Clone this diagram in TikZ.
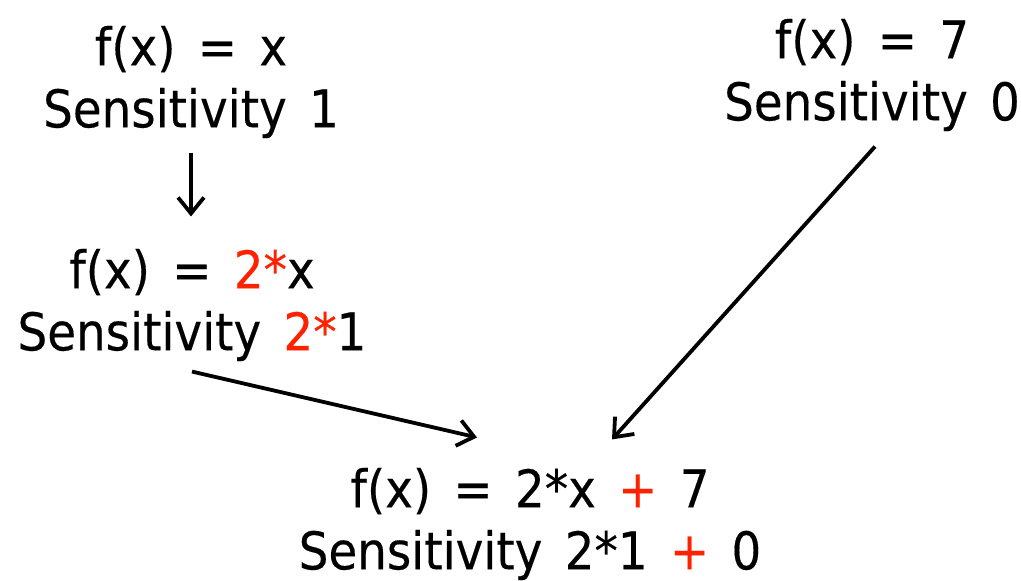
\documentclass[tikz,border=0pt]{standalone}
\usepackage{fontspec}
\setmainfont[FakeStretch=0.9,WordSpace=1.5,FakeBold=0.3]{DejaVu Sans}
\usetikzlibrary{arrows.meta,calc}
\definecolor{sensred}{HTML}{FF2200}

\begin{document}
\begin{tikzpicture}[x=0.5pt,y=0.5pt,
          fn/.style={align=center, inner sep=0pt,
                     font=\fontsize{26}{31}\selectfont},
          arr/.style={-{Straight Barb[length=8pt,width=13pt]}, line width=1.9pt}
        ]
        \useasboundingbox (0,0) rectangle (1021,580);
        \node[fn] (id) at (191,498) {f(x) = x\\Sensitivity 1};
        \node[fn] (cst) at (872,505) {f(x) = 7\\Sensitivity 0};
        \node[fn] (dbl) at (192,275) {f(x) = \textcolor{sensred}{2*}x\\Sensitivity \textcolor{sensred}{2*}1};
        \node[fn] (sum) at (530,56) {f(x) = 2*x \textcolor{sensred}{+} 7\\Sensitivity 2*1 \textcolor{sensred}{+} 0};
        \draw[arr] ([yshift=-7pt]id.south) -- ([yshift=16pt]id.south |- dbl.north);
        \draw[arr] ([yshift=-5pt]dbl.south) -- ([xshift=-26.5pt,yshift=15pt]sum.north);
        \draw[arr] ([xshift=1.5pt,yshift=-7.5pt]cst.south) -- ([xshift=41pt,yshift=14pt]sum.north);
      \end{tikzpicture}
\end{document}
